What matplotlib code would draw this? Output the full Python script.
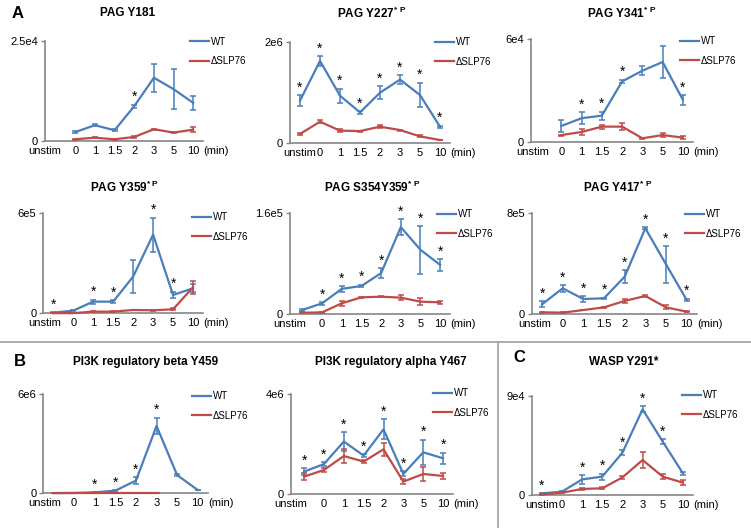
import numpy as np
import matplotlib
matplotlib.use('Agg')
import matplotlib.pyplot as plt
from matplotlib.lines import Line2D

plt.rcParams['font.family'] = ['Liberation Sans', 'DejaVu Sans']
plt.rcParams['mathtext.fontset'] = 'custom'
plt.rcParams['mathtext.rm'] = 'Liberation Sans'
plt.rcParams['mathtext.bf'] = 'Liberation Sans:bold'

nan = np.nan
times = ['unstim', '0', '1', '1.5', '2', '3', '5', '10']
series = ['WT', '\u0394SLP76']

# PAG Y181
y181_wt = [nan, 2300, 4000, 2740, 8720, 15800, 12960, 9550]
y181_wt_err = [nan, 300, 300, 300, 400, 3500, 4900, 1700]
y181_ko = [nan, 500, 900, 500, 1080, 3000, 2160, 2900]
y181_ko_err = [nan, 100, 200, 100, 250, 100, 100, 660]
y181_star = [0, 0, 0, 0, 1, 0, 0, 0]

# PAG Y227
y227_wt = [832e3, 1.62e6, 931e3, 600e3, 990e3, 1.25e6, 944e3, 317e3]
y227_wt_err = [115e3, 100e3, 140e3, 25e3, 130e3, 90e3, 245e3, 20e3]
y227_ko = [172e3, 416e3, 238e3, 231e3, 317e3, 251e3, 125e3, 53e3]
y227_ko_err = [20e3, 30e3, 25e3, 10e3, 25e3, 10e3, 20e3, 5e3]
y227_star = [1, 1, 1, 1, 1, 1, 1, 1]

# PAG Y341
y341_wt = [nan, 9250, 13800, 15300, 35400, 41700, 46800, 24600]
y341_wt_err = [nan, 3500, 3500, 2300, 1000, 2700, 9600, 2800]
y341_ko = [nan, 3900, 5700, 8850, 8850, 2000, 3900, 2400]
y341_ko_err = [nan, 300, 1600, 1200, 2000, 300, 1400, 800]
y341_star = [0, 0, 1, 1, 1, 0, 0, 1]

# PAG Y359
y359_wt = [4e3, 16e3, 70e3, 70e3, 220e3, 472e3, 110e3, 150e3]
y359_wt_err = [2e3, 3e3, 12e3, 10e3, 97e3, 102e3, 20e3, 25e3]
y359_ko = [1e3, 1e3, 10e3, 10e3, 20e3, 18e3, 24e3, 156e3]
y359_ko_err = [500, 500, 2e3, 2e3, 2e3, 3e3, 5e3, 40e3]
y359_star = [1, 0, 1, 1, 0, 1, 1, 0]

# PAG S354Y359
s354_wt = [6.4e3, 17e3, 40e3, 44.5e3, 65e3, 138e3, 102e3, 78e3]
s354_wt_err = [1.5e3, 2e3, 4.5e3, 2e3, 8e3, 12.5e3, 38e3, 9.5e3]
s354_ko = [2e3, 2.6e3, 17e3, 26.5e3, 27.5e3, 26e3, 19.6e3, 18.5e3]
s354_ko_err = [500, 500, 4e3, 1e3, 1e3, 4e3, 6e3, 2.5e3]
s354_star = [0, 1, 1, 1, 1, 1, 1, 1]

# PAG Y417
y417_wt = [79e3, 206e3, 121e3, 127e3, 298e3, 681e3, 396e3, 114e3]
y417_wt_err = [25e3, 26e3, 22e3, 5e3, 50e3, 8e3, 145e3, 10e3]
y417_ko = [16e3, 13e3, 34e3, 55e3, 106e3, 145e3, 55e3, 21e3]
y417_ko_err = [3e3, 2e3, 3e3, 3e3, 18e3, 5e3, 16e3, 3e3]
y417_star = [1, 1, 1, 1, 1, 1, 1, 1]

# PI3K regulatory beta Y459
beta_wt = [10e3, 20e3, 60e3, 161e3, 765e3, 4.07e6, 1.1e6, 200e3]
beta_wt_err = [5e3, 5e3, 10e3, 20e3, 200e3, 500e3, 50e3, 20e3]
beta_ko = [5e3, 5e3, 5e3, 5e3, 5e3, 5e3, nan, nan]
beta_ko_err = [0, 0, 0, 0, 0, 0, nan, nan]
beta_star = [0, 0, 1, 1, 1, 1, 0, 0]

# PI3K regulatory alpha Y467
alpha_wt = [907e3, 1.21e6, 2.11e6, 1.55e6, 2.6e6, 813e3, 1.68e6, 1.44e6]
alpha_wt_err = [133e3, 90e3, 370e3, 65e3, 400e3, 100e3, 510e3, 225e3]
alpha_ko = [707e3, 973e3, 1.53e6, 1.31e6, 1.8e6, 507e3, 813e3, 733e3]
alpha_ko_err = [133e3, 93e3, 270e3, 65e3, 265e3, 93e3, 270e3, 120e3]
alpha_star = [1, 1, 1, 1, 1, 1, 1, 1]

# WASP Y291
wasp_wt = [1.5e3, 3e3, 14.2e3, 16.7e3, 38.5e3, 77.9e3, 48.5e3, 19.7e3]
wasp_wt_err = [500, 300, 4.2e3, 2.7e3, 2.1e3, 2.7e3, 2.1e3, 1.5e3]
wasp_ko = [600, 2.1e3, 5.5e3, 6.1e3, 16e3, 31.8e3, 16.7e3, 11.2e3]
wasp_ko_err = [200, 200, 600, 1e3, 1.5e3, 7e3, 2.5e3, 2.1e3]
wasp_star = [1, 0, 1, 1, 1, 1, 1, 0]

titles = [r'PAG Y181', r'PAG Y227$^{\mathbf{*\ P}}$', r'PAG Y341$^{\mathbf{*\ P}}$',
          r'PAG Y359$^{\mathbf{*\ P}}$', r'PAG S354Y359$^{\mathbf{*\ P}}$', r'PAG Y417$^{\mathbf{*\ P}}$',
          'PI3K regulatory beta Y459', 'PI3K regulatory alpha Y467', 'WASP Y291*']
y_max = [2.5e4, 2e6, 6e4, 6e5, 1.6e5, 8e5, 6e6, 4e6, 9e4]
y_max_label = ['2.5e4', '2e6', '6e4', '6e5', '1.6e5', '8e5', '6e6', '4e6', '9e4']

panels = [
    (y181_wt, y181_wt_err, y181_ko, y181_ko_err, y181_star),
    (y227_wt, y227_wt_err, y227_ko, y227_ko_err, y227_star),
    (y341_wt, y341_wt_err, y341_ko, y341_ko_err, y341_star),
    (y359_wt, y359_wt_err, y359_ko, y359_ko_err, y359_star),
    (s354_wt, s354_wt_err, s354_ko, s354_ko_err, s354_star),
    (y417_wt, y417_wt_err, y417_ko, y417_ko_err, y417_star),
    (beta_wt, beta_wt_err, beta_ko, beta_ko_err, beta_star),
    (alpha_wt, alpha_wt_err, alpha_ko, alpha_ko_err, alpha_star),
    (wasp_wt, wasp_wt_err, wasp_ko, wasp_ko_err, wasp_star),
]

# layout in pixels: axes (left, right, top, bottom), title centre, legend start, unstim label x
W, H = 751, 528
ax_px = [(45, 203, 40.7, 141.3), (290, 450, 41.7, 142.7), (531, 693, 39.5, 141.7),
         (43.3, 203, 213.3, 313.3), (290, 450, 213.3, 314), (531.7, 697, 213.3, 314.3),
         (43.3, 208, 394, 493.3), (291, 453, 394.3, 494.3), (531.7, 693, 396, 495)]
title_px = [(128, 13), (372, 13), (622, 13), (125, 187), (372, 187), (618, 187),
            (146, 362), (391, 362), (624, 362)]
legend_px = [(190, 41.7), (435, 42), (680, 41), (192, 217), (437, 214), (685, 214),
             (192, 396), (433, 393), (682, 395)]
unstim_x = [-0.54, 0, -0.4, -0.41, -0.63, -0.34, -0.44, -0.66, 0]

BLUE = '#4A7EBB'
RED = '#BE4B48'
GRAY = '#868686'

fig = plt.figure(figsize=(7.51, 5.28), dpi=100)

for i, (wt, wt_err, ko, ko_err, star) in enumerate(panels):
    l, r, t, b = ax_px[i]
    ax = fig.add_axes([l / W, 1 - b / H, (r - l) / W, (b - t) / H])
    x = np.arange(len(times))
    ax.errorbar(x, wt, yerr=wt_err, color=BLUE, lw=1.6, elinewidth=1.1,
                capsize=2, capthick=1.1, zorder=3, clip_on=False)
    ax.errorbar(x, ko, yerr=ko_err, color=RED, lw=1.6, elinewidth=1.1,
                capsize=2, capthick=1.1, zorder=4, clip_on=False)

    # significance asterisks above the WT error bars
    tops = np.array(wt, dtype=float) + np.nan_to_num(np.array(wt_err, dtype=float))
    for xi, s, top in zip(x, star, tops):
        if s:
            ax.annotate('*', xy=(xi, top), xytext=(0, 2.5), textcoords='offset points',
                        ha='center', va='baseline', fontsize=10, annotation_clip=False)

    ax.set_xlim(-0.5, 7.5)
    ax.set_ylim(0, y_max[i])
    ax.set_yticks([0, y_max[i]], ['0', y_max_label[i]])
    xt = list(x.astype(float))
    xt[0] = unstim_x[i]
    ax.set_xticks(xt, times)
    ax.tick_params(axis='x', length=0, pad=3.5, labelsize=8)
    ax.tick_params(axis='y', length=3, width=1, color=GRAY, pad=2, labelsize=8)
    ax.annotate('(min)', xy=(7, 0), xycoords=ax.get_xaxis_transform(), xytext=(7.5, -3.5),
                textcoords='offset points', ha='left', va='top', fontsize=8)
    for s in ['top', 'right']:
        ax.spines[s].set_visible(False)
    for s in ['left', 'bottom']:
        ax.spines[s].set_color(GRAY)
        ax.spines[s].set_linewidth(1.2)
    ax.patch.set_alpha(0)

    handles = [Line2D([], [], color=BLUE, lw=1.6), Line2D([], [], color=RED, lw=1.6)]
    lx, ly = legend_px[i]
    ax.legend(handles, series, loc='upper left', bbox_to_anchor=(lx / W, 1 - (ly - 5) / H),
              bbox_transform=fig.transFigure, frameon=False, fontsize=7,
              handlelength=2.0, handletextpad=0.15, labelspacing=1.0,
              borderpad=0, borderaxespad=0)

    cx, cy = title_px[i]
    fig.text(cx / W, 1 - cy / H, titles[i], fontsize=8.5, fontweight='bold',
             ha='center', va='center')

# section letters and separators
fig.text(18 / W, 1 - 13 / H, 'A', fontsize=12, fontweight='bold', ha='center', va='center')
fig.text(20 / W, 1 - 361 / H, 'B', fontsize=12, fontweight='bold', ha='center', va='center')
fig.text(519 / W, 1 - 357 / H, 'C', fontsize=12, fontweight='bold', ha='center', va='center')
fig.add_artist(Line2D([0, 1], [1 - 341.5 / H] * 2, transform=fig.transFigure,
                      color='#A6A6A6', lw=1.3))
fig.add_artist(Line2D([497.5 / W] * 2, [0, 1 - 341.5 / H], transform=fig.transFigure,
                      color='#A6A6A6', lw=1.3))

fig.savefig('out.png', dpi=100)
